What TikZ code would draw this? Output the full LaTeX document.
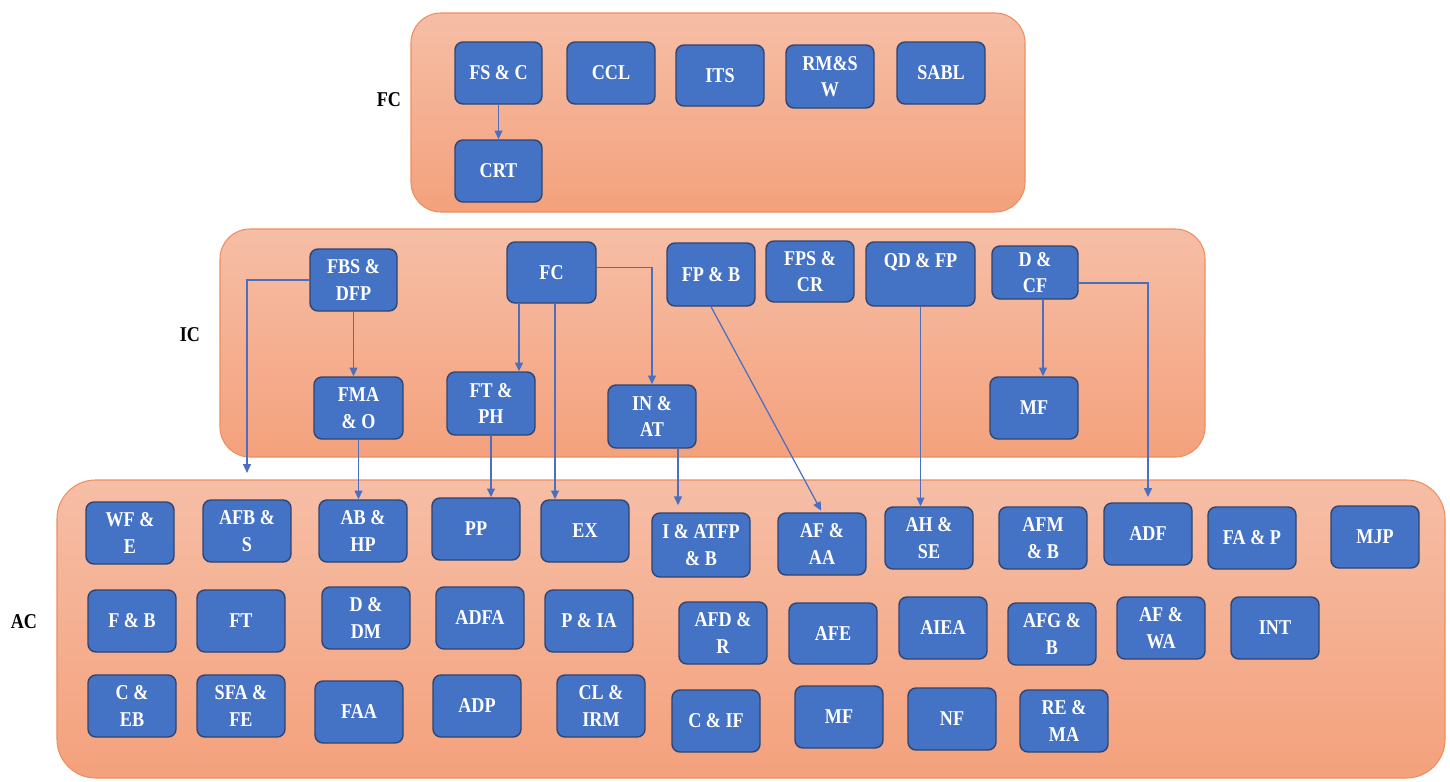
\documentclass[tikz,border=0pt]{standalone}
\usepackage{fontspec}
\setmainfont{Liberation Serif}
\newfontfamily\boxfam{Liberation Serif}[FakeStretch=0.86]
\usetikzlibrary{arrows.meta}
\definecolor{boxblue}{HTML}{4472C4}
\definecolor{boxline}{HTML}{2F4470}
\definecolor{arrblue}{HTML}{4A6FC0}
\definecolor{grptop}{HTML}{F6BEA6}
\definecolor{grpbot}{HTML}{F4A17C}
\definecolor{grpline}{HTML}{EE8E5E}
\tikzset{
  box/.style={draw=boxline, fill=boxblue, rounded corners=4.5pt, line width=0.8pt,
    inner sep=1pt, align=center, text=white,
    font=\boxfam\bfseries\fontsize{12}{15}\selectfont},
  grp/.style={draw=grpline, line width=0.6pt, top color=grptop, bottom color=grpbot},
  arr/.style={draw=arrblue, line width=0.7pt, -{Triangle[length=5pt,width=4.5pt]}},
  lab/.style={font=\boxfam\bfseries\fontsize{12}{15}\selectfont, text=black}
}
\newcommand\bx[6]{\node[box, minimum width={(#4-#2)*0.02cm}, minimum height={(#5-#3)*0.02cm}] (#1) at ({(#2+#4)/2},{(#3+#5)/2}) {#6};}
\begin{document}
\begin{tikzpicture}[x=0.02cm,y=-0.02cm]
\useasboundingbox (0,0) rectangle (1450,781);
% containers
\path[grp, rounded corners=17pt] (411,13) rectangle (1025,212);
\path[grp, rounded corners=17pt] (220,229) rectangle (1205,457);
\path[grp, rounded corners=22pt] (57,480) rectangle (1445,778);
% labels
\node[lab] (lfc) at (389,100) {FC};
\node[lab] (lic) at (190,335) {IC};
\node[lab] (lac) at (24,622) {AC};
% FC group
\bx{fsc}{455}{42}{542}{104}{FS \& C}
\bx{ccl}{567}{42}{655}{104}{CCL}
\bx{its}{676}{45}{764}{106}{ITS}
\bx{rmsw}{786}{45}{874}{108}{RM\&S\\W}
\bx{sabl}{897}{42}{985}{104}{SABL}
\bx{crt}{455}{140}{542}{202}{CRT}
% IC group
\bx{fbs}{310}{249}{397}{311}{FBS \&\\DFP}
\bx{fcn}{507}{242}{596}{303}{FC}
\bx{fpb}{667}{243}{755}{306}{FP \& B}
\bx{fps}{766}{241}{854}{302}{FPS \&\\CR}
\bx{qd}{866}{242}{975}{306}{QD \& FP\\[0pt]\vphantom{X}}
\bx{dcf}{992}{246}{1078}{299}{D \&\\CF}
\bx{fma}{314}{377}{403}{439}{FMA\\\& O}
\bx{ftph}{447}{372}{535}{435}{FT \&\\PH}
\bx{inat}{608}{385}{696}{448}{IN \&\\AT}
\bx{mfa}{990}{377}{1078}{439}{MF}
% AC row 1
\bx{wfe}{86}{502}{174}{564}{WF \&\\E}
\bx{afbs}{203}{500}{291}{562}{AFB \&\\S}
\bx{abhp}{319}{500}{407}{562}{AB \&\\HP}
\bx{pp}{432}{498}{520}{560}{PP}
\bx{ex}{541}{500}{629}{562}{EX}
\bx{iatfp}{652}{513}{750}{577}{I \& ATFP\\\& B}
\bx{afaa}{778}{513}{866}{575}{AF \&\\AA}
\bx{ahse}{885}{507}{973}{569}{AH \&\\SE}
\bx{afmb}{999}{507}{1087}{569}{AFM\\\& B}
\bx{adf}{1104}{503}{1192}{565}{ADF}
\bx{fap}{1208}{507}{1296}{569}{FA \& P}
\bx{mjp}{1331}{506}{1419}{568}{MJP}
% AC row 2
\bx{fb}{88}{590}{176}{652}{F \& B}
\bx{ft}{197}{590}{285}{652}{FT}
\bx{ddm}{322}{587}{410}{649}{D \&\\DM}
\bx{adfa}{436}{587}{524}{649}{ADFA}
\bx{pia}{545}{590}{633}{652}{P \& IA}
\bx{afdr}{679}{602}{767}{664}{AFD \&\\R}
\bx{afe}{789}{603}{877}{664}{AFE}
\bx{aiea}{899}{597}{987}{659}{AIEA}
\bx{afgb}{1008}{603}{1096}{665}{AFG \&\\B}
\bx{afwa}{1117}{597}{1205}{659}{AF \&\\WA}
\bx{int}{1231}{597}{1319}{659}{INT}
% AC row 3
\bx{ceb}{88}{675}{176}{737}{C \&\\EB}
\bx{sfa}{197}{675}{285}{737}{SFA \&\\FE}
\bx{faa}{315}{681}{403}{743}{FAA}
\bx{adp}{433}{675}{521}{737}{ADP}
\bx{clirm}{557}{675}{645}{737}{CL \&\\IRM}
\bx{cif}{672}{690}{760}{752}{C \& IF}
\bx{mfb}{795}{686}{883}{748}{MF}
\bx{nf}{908}{688}{996}{750}{NF}
\bx{rema}{1020}{690}{1108}{752}{RE \&\\MA}
% helper x positions
\coordinate (k1) at (519,0);
\coordinate (k2) at (555,0);
\coordinate (k3) at (678,0);
\coordinate (k4) at (1043,0);
% connectors
\draw[arr] (fsc.south) -- (crt.north);
\draw[arr, shorten >=15pt] (fbs.west) -| (afbs.north);
\draw[arr] (fbs.south) -- (fbs.south |- fma.north);
\draw[arr] (fma.south) -- (fma.south |- abhp.north);
\draw[arr] (k1 |- fcn.south) -- (k1 |- ftph.north);
\draw[arr] (k2 |- fcn.south) -- (k2 |- ex.north);
\draw[arr] ([yshift=3pt]fcn.east) -| (inat.north);
\draw[arr] (ftph.south) -- (ftph.south |- pp.north);
\draw[arr, shorten >=4pt] (k3 |- inat.south) -- (k3 |- iatfp.north);
\draw[arr, shorten >=1pt] (fpb.south) -- (afaa.north);
\draw[arr] (qd.south) -- (qd.south |- ahse.north);
\draw[arr] (k4 |- dcf.south) -- (k4 |- mfa.north);
\draw[arr, shorten >=3pt] ([yshift=-6pt]dcf.east) -| (adf.north);
\end{tikzpicture}
\end{document}
